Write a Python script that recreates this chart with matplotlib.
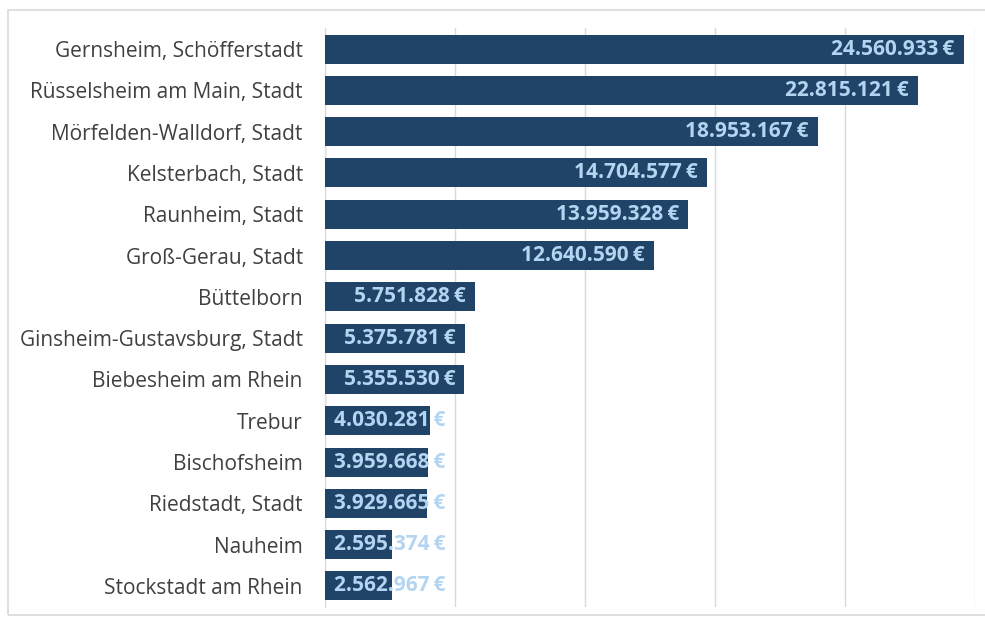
import matplotlib
matplotlib.use("Agg")
import matplotlib.pyplot as plt
from matplotlib.patches import Rectangle

# Daten
gemeinden = [
    "Gernsheim, Schöfferstadt",
    "Rüsselsheim am Main, Stadt",
    "Mörfelden-Walldorf, Stadt",
    "Kelsterbach, Stadt",
    "Raunheim, Stadt",
    "Groß-Gerau, Stadt",
    "Büttelborn",
    "Ginsheim-Gustavsburg, Stadt",
    "Biebesheim am Rhein",
    "Trebur",
    "Bischofsheim",
    "Riedstadt, Stadt",
    "Nauheim",
    "Stockstadt am Rhein",
]
betraege = [
    24560933, 22815121, 18953167, 14704577, 13959328, 12640590,
    5751828, 5375781, 5355530, 4030281, 3959668, 3929665,
    2595374, 2562967,
]
x_ticks = [0, 5e6, 10e6, 15e6, 20e6, 25e6]

BAR_COLOR = "#1F4467"
LABEL_COLOR = "#B4D5F2"
TEXT_COLOR = "#404040"
GRID_COLOR = "#D9D9D9"

plt.rcParams["font.family"] = ["Open Sans", "DejaVu Sans"]

fig = plt.figure(figsize=(9.85, 6.19), dpi=100)
ax = fig.add_axes([325 / 985, 1 - 606.6 / 619, 650 / 985, 578.2 / 619])

# Rahmen um das Diagramm
fig.patches.append(Rectangle((8 / 985, 4 / 619), 1.0, 605 / 619, transform=fig.transFigure,
                             fill=False, edgecolor="#D9D9D9", linewidth=1.2))

y = list(range(len(gemeinden)))
ax.barh(y, betraege, height=0.7, color=BAR_COLOR, zorder=2)
ax.set_ylim(len(gemeinden) - 0.5, -0.5)
ax.set_xlim(0, 25e6)
ax.set_xticks(x_ticks)
ax.tick_params(axis="x", length=0, labelbottom=False)
ax.tick_params(axis="y", length=0, pad=16, labelsize=15, labelcolor=TEXT_COLOR)
ax.set_yticks(y)
ax.set_yticklabels(gemeinden)
ax.grid(axis="x", color=GRID_COLOR, linewidth=1, zorder=1)
for s in ["top", "right", "bottom"]:
    ax.spines[s].set_visible(False)
ax.spines["left"].set_color(GRID_COLOR)
ax.spines["left"].set_zorder(1)

pad = 0.35e6
schwelle = 5.2e6
for yi, v in zip(y, betraege):
    txt = f"{v:,}".replace(",", ".") + "\u2009€"
    if v >= schwelle:
        ax.text(v - pad, yi, txt, ha="right", va="center", color=LABEL_COLOR,
                fontsize=15, fontweight="bold", zorder=3)
    else:
        ax.text(pad, yi, txt, ha="left", va="center", color=LABEL_COLOR,
                fontsize=15, fontweight="bold", zorder=3)

fig.savefig("out.png", dpi=100)
